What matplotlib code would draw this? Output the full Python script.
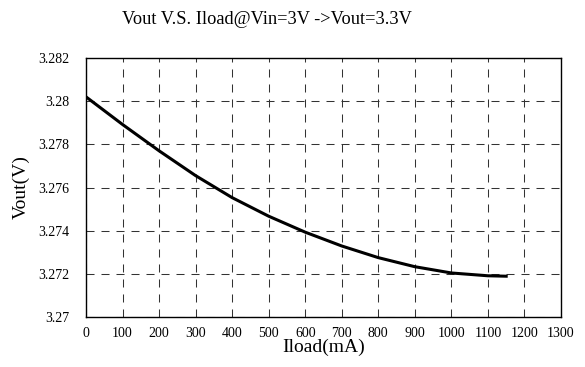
import numpy as np
import matplotlib.pyplot as plt
from matplotlib.ticker import FuncFormatter

# Values
iload_ma = [0, 100, 200, 300, 400, 500, 600, 700, 800, 900, 1000, 1100, 1150]
vout_v = [3.2802, 3.27892, 3.27770, 3.27655, 3.27553, 3.27467, 3.27393,
          3.27329, 3.27275, 3.27233, 3.27204, 3.27191, 3.27189]

x_ticks = np.arange(0, 1301, 100)
y_ticks = [3.27, 3.272, 3.274, 3.276, 3.278, 3.28, 3.282]

plt.rcParams['font.family'] = ['Liberation Serif', 'DejaVu Serif']

fig = plt.figure(figsize=(5.85, 3.67), dpi=100)
ax = fig.add_axes([86 / 585, 1 - 317 / 367, 475 / 585, 259 / 367])

ax.plot(iload_ma, vout_v, color='black', linewidth=2.2, zorder=3)

ax.set_xlim(0, 1300)
ax.set_ylim(3.27, 3.282)
ax.set_xticks(x_ticks)
ax.set_yticks(y_ticks)
ax.yaxis.set_major_formatter(FuncFormatter(lambda v, p: '%g' % round(v, 4)))
ax.tick_params(length=0, labelsize=10)
ax.tick_params(axis='y', pad=12)
ax.tick_params(axis='x', pad=7)

ax.grid(True, color='#333333', linestyle=(0, (7.7, 6.7)), linewidth=0.75)
for s in ax.spines.values():
    s.set_color('black')
    s.set_linewidth(1.0)

ax.set_xlabel('Iload(mA)', fontsize=14, labelpad=-1)
ax.set_ylabel('Vout(V)', fontsize=14, labelpad=6)

fig.text(267 / 585, 1 - 20 / 367, 'Vout V.S. Iload@Vin=3V ->Vout=3.3V',
         fontsize=13.2, ha='center', va='center')

fig.savefig('out.png', dpi=100)
